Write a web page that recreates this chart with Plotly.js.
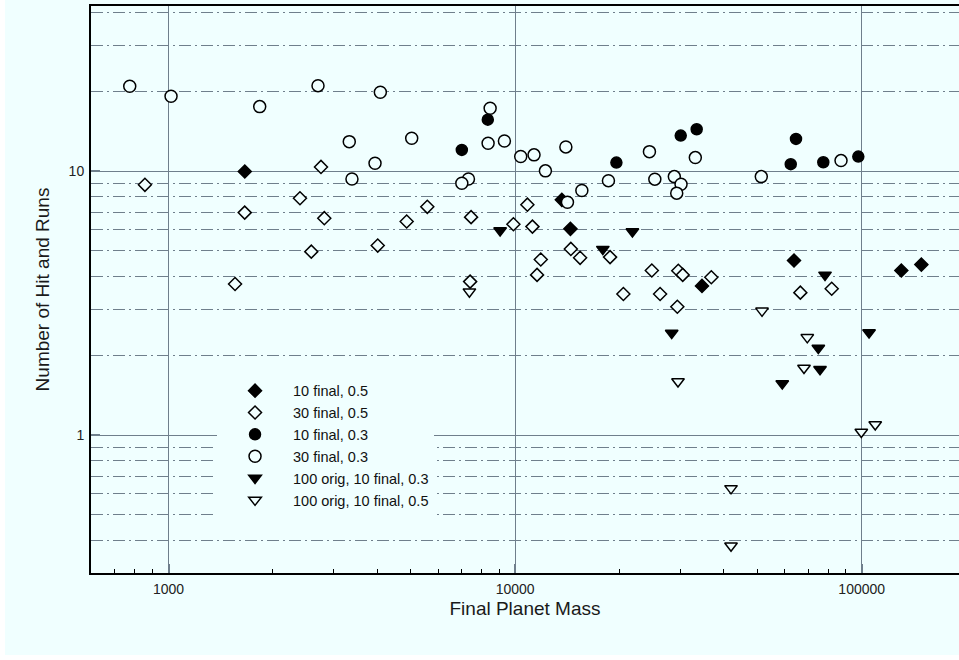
<!DOCTYPE html>
<html>
<head>
<meta charset="utf-8">
<script src="https://cdn.plot.ly/plotly-3.0.1.min.js"></script>
<style>html,body{margin:0;padding:0;background:#ffffff;}#chart{width:959px;height:660px;}</style>
</head>
<body>
<div id="chart"></div>
<script>
// ---- data ----
const legendNames = ["10 final, 0.5", "30 final, 0.5", "10 final, 0.3", "30 final, 0.3",
                     "100 orig, 10 final, 0.3", "100 orig, 10 final, 0.5"];

const s1x = [1660, 13640, 14440, 34610, 63780, 130100, 148600];
const s1y = [9.97, 7.79, 6.05, 3.68, 4.59, 4.21, 4.43];

const s2x = [855, 2754, 2395, 1659, 2815, 4015, 2582, 1556, 5581, 4866, 7464, 7416, 9888, 10850, 11220,
             11860, 11570, 14480, 15400, 18790, 24800, 20530, 26200, 29570, 30450, 36820, 29380, 66520, 81930];
const s2y = [8.88, 10.38, 7.9, 6.97, 6.64, 5.23, 4.96, 3.74, 7.33, 6.45, 6.7, 3.82, 6.3, 7.47, 6.17,
             4.63, 4.05, 5.08, 4.7, 4.73, 4.21, 3.43, 3.43, 4.2, 4.05, 3.97, 3.07, 3.47, 3.59];

const s3x = [7019, 8341, 19600, 30050, 33410, 64630, 62410, 77480, 97770];
const s3y = [12.04, 15.67, 10.78, 13.64, 14.41, 13.25, 10.63, 10.81, 11.36];

const s4x = [773, 1017, 1833, 2700, 3323, 3943, 3383, 4085, 5031, 8471, 8358, 9314, 7335, 7019, 10380,
             11340, 12230, 14010, 14160, 15580, 18590, 24410, 25300, 28800, 30110, 29260, 33110, 51320, 87160];
const s4y = [20.97, 19.22, 17.56, 21.08, 12.94, 10.72, 9.35, 19.9, 13.33, 17.31, 12.76, 13.02, 9.35, 9.01, 11.36,
             11.53, 10.03, 12.36, 7.63, 8.45, 9.21, 11.86, 9.33, 9.54, 8.93, 8.26, 11.26, 9.54, 10.97];

const s5x = [9052, 21800, 17910, 28300, 78370, 74960, 75810, 58990, 105000];
const s5y = [5.96, 5.91, 5.07, 2.44, 4.05, 2.14, 1.78, 1.57, 2.45];

const s6x = [7382, 51570, 69660, 68150, 29510, 99730, 109400, 41970, 41970];
const s6y = [3.5, 2.96, 2.35, 1.8, 1.6, 1.03, 1.1, 0.63, 0.382];

const xTickVals = [1000, 10000, 100000];
const xTickText = ["1000", "10000", "100000"];
const yTickVals = [1, 10];
const yTickText = ["1", "10"];

const xTitle = "Final Planet Mass";
const yTitle = "Number of Hit and Runs";

// ---- styling ----
const BG = "#f0ffff";
const GRID = "#6f7f8c";
const FONT = "Liberation Sans, Arial, Helvetica, sans-serif";

function tr(x, y, name, rank, symbol, filled, size) {
  return {
    type: "scatter", mode: "markers", x: x, y: y, name: name, legendrank: rank,
    marker: {
      symbol: symbol, size: size,
      color: filled ? "#000000" : BG,
      line: {color: "#000000", width: 1.5}
    },
    hoverinfo: "x+y+name"
  };
}

const data = [
  tr(s5x, s5y, legendNames[4], 5, "triangle-down", true, 11),
  tr(s6x, s6y, legendNames[5], 6, "triangle-down", false, 11),
  tr(s1x, s1y, legendNames[0], 1, "diamond", true, 10),
  tr(s2x, s2y, legendNames[1], 2, "diamond", false, 10),
  tr(s4x, s4y, legendNames[3], 4, "circle", false, 12),
  tr(s3x, s3y, legendNames[2], 3, "circle", true, 11)
];

const layout = {
  width: 959, height: 660,
  margin: {l: 91, r: 0, t: 6, b: 87},
  paper_bgcolor: "#ffffff",
  plot_bgcolor: BG,
  font: {family: FONT, size: 14, color: "#1a1a1a"},
  showlegend: true,
  legend: {
    x: 0.1452, y: 0.3497, xanchor: "left", yanchor: "top",
    bgcolor: BG, borderwidth: 0,
    itemwidth: 66,
    font: {family: FONT, size: 14.5, color: "#111111"},
    traceorder: "normal"
  },
  shapes: [{
    type: "rect", xref: "paper", yref: "paper", layer: "below",
    x0: -0.0991, x1: 1.1, y0: -0.1446, y1: 1.1,
    fillcolor: BG, line: {width: 0}
  }],
  xaxis: {
    type: "log",
    range: [2.7764, 5.2807],
    tickmode: "array", tickvals: xTickVals, ticktext: xTickText,
    showgrid: true, gridcolor: GRID, gridwidth: 1,
    ticks: "inside", ticklen: 9, tickwidth: 2, tickcolor: GRID,
    ticklabelstandoff: 2,
    minor: {dtick: "D1", ticks: "inside", ticklen: 4, tickwidth: 1, tickcolor: "#000000", showgrid: false},
    showline: true, linecolor: "#000000", linewidth: 2, mirror: true,
    zeroline: false,
    tickfont: {family: FONT, size: 14, color: "#222222"},
    title: {text: xTitle, font: {family: FONT, size: 19, color: "#1a1a1a"}, standoff: 6}
  },
  yaxis: {
    type: "log",
    range: [-0.521, 1.6254],
    tickmode: "array", tickvals: yTickVals, ticktext: yTickText,
    showgrid: true, gridcolor: GRID, gridwidth: 1,
    ticks: "inside", ticklen: 9, tickwidth: 2, tickcolor: GRID,
    ticklabelstandoff: 2,
    minor: {dtick: "D1", ticks: "", showgrid: true, gridcolor: GRID, gridwidth: 1, griddash: "12px,4px,2px,4px"},
    showline: true, linecolor: "#000000", linewidth: 2, mirror: false,
    zeroline: false,
    tickfont: {family: FONT, size: 14, color: "#222222"},
    title: {text: yTitle, font: {family: FONT, size: 19, color: "#1a1a1a"}, standoff: 14}
  }
};

Plotly.newPlot("chart", data, layout, {displayModeBar: false});
</script>
</body>
</html>
